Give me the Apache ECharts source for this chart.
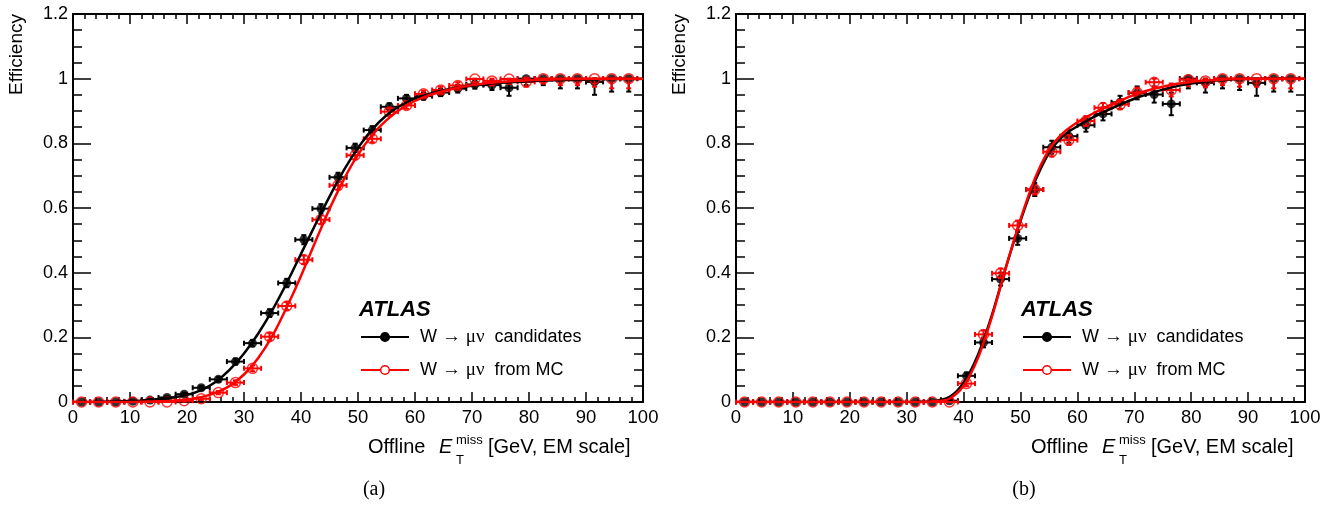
<!DOCTYPE html>
<html>
<head>
<meta charset="utf-8">
<script src="https://cdn.jsdelivr.net/npm/echarts@6/dist/echarts.min.js"></script>
<style>
html,body{margin:0;padding:0;background:#fff;}
#chart{width:1333px;height:505px;}
</style>
</head>
<body>
<div id="chart"></div>
<script>
// ---------- data ----------
const binCenters = [1.5,4.5,7.5,10.5,13.5,16.5,19.5,22.5,25.5,28.5,31.5,34.5,37.5,40.5,43.5,46.5,49.5,52.5,55.5,58.5,61.5,64.5,67.5,70.5,73.5,76.5,79.5,82.5,85.5,88.5,91.5,94.5,97.5];
const binHalfWidth = 1.5;

// panel (a)
const aDataEff = [0,0,0,0.002,0.006,0.014,0.024,0.044,0.07,0.125,0.182,0.275,0.368,0.502,0.598,0.695,0.786,0.841,0.913,0.939,0.946,0.957,0.969,0.982,0.98,0.972,1.0,1.0,1.0,1.0,0.99,1.0,1.0];
const aDataErr = [0.002,0.002,0.002,0.002,0.003,0.004,0.005,0.006,0.007,0.009,0.01,0.012,0.013,0.014,0.014,0.014,0.013,0.012,0.011,0.011,0.011,0.011,0.012,0.013,0.015,0.025,0.02,0.02,0.03,0.03,0.04,0.04,0.04];
const aMCEff = [0,0,0,0,0,0,0.004,0.01,0.029,0.06,0.104,0.202,0.297,0.44,0.564,0.67,0.763,0.814,0.898,0.917,0.953,0.965,0.979,0.999,0.993,0.999,0.99,1.0,1.0,1.0,1.0,1.0,1.0];
const aMCErr = [0.001,0.001,0.001,0.001,0.001,0.002,0.003,0.004,0.005,0.007,0.009,0.011,0.012,0.013,0.013,0.013,0.012,0.011,0.01,0.01,0.01,0.01,0.01,0.01,0.012,0.015,0.015,0.015,0.02,0.02,0.025,0.03,0.03];

// fit curves, read at 2.5 GeV steps
const fitX = [0,2.5,5,7.5,10,12.5,15,17.5,20,22.5,25,27.5,30,32.5,35,37.5,40,42.5,45,47.5,50,52.5,55,57.5,60,62.5,65,67.5,70,72.5,75,77.5,80,82.5,85,87.5,90,92.5,95,97.5,100];
const aFitData = [0,0,0.001,0.002,0.003,0.005,0.009,0.014,0.022,0.037,0.062,0.1,0.15,0.212,0.285,0.368,0.458,0.548,0.635,0.716,0.786,0.843,0.887,0.917,0.938,0.953,0.964,0.972,0.978,0.983,0.987,0.99,0.992,0.994,0.995,0.996,0.997,0.998,0.999,0.999,1.0];
const aFitMC = [0,0,0,0,0,0.001,0.002,0.004,0.008,0.015,0.028,0.05,0.085,0.136,0.205,0.293,0.39,0.495,0.597,0.688,0.765,0.826,0.872,0.906,0.931,0.949,0.962,0.972,0.98,0.986,0.99,0.993,0.995,0.997,0.998,0.999,0.999,1.0,1.0,1.0,1.0];

// panel (b)
const bDataEff = [0,0,0,0,0,0,0,0,0,0,0,0,0.004,0.081,0.184,0.38,0.506,0.657,0.788,0.822,0.856,0.891,0.927,0.956,0.951,0.922,1.0,0.987,1.0,1.0,0.987,1.0,1.0];
const bDataErr = [0.002,0.002,0.002,0.002,0.002,0.002,0.002,0.002,0.002,0.002,0.002,0.003,0.005,0.01,0.015,0.02,0.02,0.02,0.02,0.02,0.02,0.02,0.02,0.02,0.025,0.035,0.03,0.03,0.03,0.035,0.04,0.04,0.04];
const bMCEff = [0,0,0,0,0,0,0,0,0,0,0,0,0,0.057,0.209,0.398,0.546,0.657,0.774,0.81,0.869,0.91,0.92,0.957,0.989,0.965,0.997,0.993,1.0,1.0,1.0,1.0,1.0];
const bMCErr = [0.001,0.001,0.001,0.001,0.001,0.001,0.001,0.001,0.001,0.001,0.001,0.002,0.003,0.008,0.012,0.015,0.015,0.015,0.015,0.015,0.015,0.015,0.015,0.015,0.015,0.02,0.02,0.02,0.02,0.025,0.025,0.03,0.03];
const bFitData = [0,0,0,0,0,0,0,0,0,0,0,0,0,0.0005,0.003,0.015,0.06,0.145,0.27,0.42,0.56,0.68,0.77,0.823,0.853,0.878,0.9,0.92,0.938,0.953,0.966,0.977,0.985,0.991,0.995,0.998,0.999,1.0,1.0,1.0,1.0];
const bFitMC = [0,0,0,0,0,0,0,0,0,0,0,0,0,0,0.002,0.01,0.05,0.135,0.265,0.42,0.565,0.69,0.78,0.832,0.865,0.89,0.912,0.932,0.95,0.964,0.975,0.984,0.99,0.994,0.997,0.999,1.0,1.0,1.0,1.0,1.0];

const xTicks = {min:0, max:100, interval:10};
const yTicks = {min:0, max:1.2, interval:0.2};

// ---------- helpers ----------
const FONT = 'Liberation Sans, Arial, Helvetica, sans-serif';
const SERIF = 'Liberation Serif, Times New Roman, serif';
const BLACK = '#000000';
const RED = '#ff0000';

function zip(xs, ys, es){ return xs.map((x,i)=> es ? [x, ys[i], es[i]] : [x, ys[i]]); }

function errRender(color){
  return function(params, api){
    const x = api.value(0), y = api.value(1), e = api.value(2);
    const l = api.coord([x - binHalfWidth, y]);
    const r = api.coord([x + binHalfWidth, y]);
    const lo = api.coord([x, Math.max(0, y - e)]);
    const hi = api.coord([x, Math.min(1, y + e)]);
    const st = {stroke: color, lineWidth: 2};
    const cap = 2.5;
    const ch = [
      {type:'line', shape:{x1:l[0], y1:l[1], x2:r[0], y2:r[1]}, style:st},
      {type:'line', shape:{x1:l[0], y1:l[1]-cap, x2:l[0], y2:l[1]+cap}, style:st},
      {type:'line', shape:{x1:r[0], y1:r[1]-cap, x2:r[0], y2:r[1]+cap}, style:st}
    ];
    if (Math.abs(lo[1]-hi[1]) > 1) {
      ch.push({type:'line', shape:{x1:lo[0], y1:lo[1], x2:hi[0], y2:hi[1]}, style:st});
      ch.push({type:'line', shape:{x1:lo[0]-cap, y1:lo[1], x2:lo[0]+cap, y2:lo[1]}, style:st});
      ch.push({type:'line', shape:{x1:hi[0]-cap, y1:hi[1], x2:hi[0]+cap, y2:hi[1]}, style:st});
    }
    return {type:'group', children: ch};
  };
}

function xAxisDef(g, pos){
  return {
    type:'value', gridIndex:g, position:pos, min:xTicks.min, max:xTicks.max, interval:xTicks.interval,
    axisLine:{show:true, onZero:false, lineStyle:{color:BLACK, width:2}},
    axisTick:{show:true, inside:true, length:10, lineStyle:{color:BLACK, width:1.5}},
    minorTick:{show:true, splitNumber:5, length:5, lineStyle:{color:BLACK, width:1.5}},
    splitLine:{show:false}, minorSplitLine:{show:false},
    axisLabel:{show: pos === 'bottom', color:BLACK, fontSize:18.5, fontFamily:FONT, margin:6}
  };
}
function yAxisDef(g, pos){
  return {
    type:'value', gridIndex:g, position:pos, min:yTicks.min, max:yTicks.max, interval:yTicks.interval,
    axisLine:{show:true, onZero:false, lineStyle:{color:BLACK, width:2}},
    axisTick:{show:true, inside:true, length:18, lineStyle:{color:BLACK, width:1.5}},
    minorTick:{show:true, splitNumber:4, length:9, lineStyle:{color:BLACK, width:1.5}},
    splitLine:{show:false}, minorSplitLine:{show:false},
    axisLabel:{show: pos === 'left', color:BLACK, fontSize:18, fontFamily:FONT, margin:5,
      formatter: v => String(+v.toFixed(1))}
  };
}

function panelSeries(g, dEff, dErr, mEff, mErr, fd, fm){
  const xi = g*2, yi = g*2;
  return [
    {type:'custom', xAxisIndex:xi, yAxisIndex:yi, renderItem:errRender(BLACK), data:zip(binCenters, dEff, dErr), clip:false, z:2, silent:true},
    {type:'scatter', xAxisIndex:xi, yAxisIndex:yi, data:zip(binCenters, dEff), symbol:'circle', symbolSize:9,
      itemStyle:{color:BLACK}, clip:false, z:3, silent:true},
    {type:'custom', xAxisIndex:xi, yAxisIndex:yi, renderItem:errRender(RED), data:zip(binCenters, mEff, mErr), clip:false, z:4, silent:true},
    {type:'scatter', xAxisIndex:xi, yAxisIndex:yi, data:zip(binCenters, mEff), symbol:'circle', symbolSize:10,
      itemStyle:{color:'rgba(255,255,255,0)', borderColor:RED, borderWidth:1.5}, clip:false, z:5, silent:true},
    {type:'line', xAxisIndex:xi, yAxisIndex:yi, data:zip(fitX, fd), smooth:0.3, showSymbol:false,
      lineStyle:{color:BLACK, width:2.5}, z:6, silent:true},
    {type:'line', xAxisIndex:xi, yAxisIndex:yi, data:zip(fitX, fm), smooth:0.3, showSymbol:false,
      lineStyle:{color:RED, width:2.5}, z:7, silent:true}
  ];
}

function panelGraphics(ox, legendX, capX, capLabel, yTitleX){
  const els = [];
  els.push({type:'text', x:yTitleX, y:14, rotation:Math.PI/2,
    style:{text:'Efficiency', font:'19px ' + FONT, fill:BLACK, align:'right', verticalAlign:'middle'}});
  els.push({type:'text', x:legendX - 2, y:309.5,
    style:{text:'ATLAS', font:'italic bold 22px ' + FONT, fill:BLACK, align:'left', verticalAlign:'middle'}});
  const rows = [
    {y:337, color:BLACK, fill:BLACK, label:'candidates'},
    {y:370, color:RED, fill:'#ffffff', label:'from MC'}
  ];
  rows.forEach(r => {
    els.push({type:'line', shape:{x1:legendX, y1:r.y, x2:legendX+48, y2:r.y}, style:{stroke:r.color, lineWidth:2}});
    els.push({type:'circle', shape:{cx:legendX+24, cy:r.y, r:4.3}, style:{fill:r.fill, stroke:r.color, lineWidth:1.5}});
    els.push({type:'text', x:legendX+59, y:r.y,
      style:{text:'{a|W }{s|→ μν}{a|  ' + r.label + '}', verticalAlign:'middle', align:'left',
        rich:{a:{font:'18px ' + FONT, fill:BLACK}, s:{font:'19px ' + SERIF, fill:BLACK}}}});
  });
  const tx = ox + 295;
  els.push({type:'text', x:tx, y:447, style:{text:'Offline', font:'20px ' + FONT, fill:BLACK, align:'left', verticalAlign:'middle'}});
  els.push({type:'text', x:tx+71, y:447, style:{text:'E', font:'italic 20px ' + FONT, fill:BLACK, align:'left', verticalAlign:'middle'}});
  els.push({type:'text', x:tx+88, y:440, style:{text:'miss', font:'13px ' + FONT, fill:BLACK, align:'left', verticalAlign:'middle'}});
  els.push({type:'text', x:tx+88, y:460, style:{text:'T', font:'13px ' + FONT, fill:BLACK, align:'left', verticalAlign:'middle'}});
  els.push({type:'text', x:tx+120, y:447, style:{text:'[GeV, EM scale]', font:'20px ' + FONT, fill:BLACK, align:'left', verticalAlign:'middle'}});
  els.push({type:'text', x:capX, y:490, style:{text:capLabel, font:'20px ' + SERIF, fill:BLACK, align:'center', verticalAlign:'middle'}});
  return els;
}

const chart = echarts.init(document.getElementById('chart'), null, {renderer:'canvas'});
chart.setOption({
  backgroundColor:'#ffffff',
  animation:false,
  grid:[
    {left:73, top:14, right:690, bottom:103, containLabel:false},
    {left:736, top:14, right:28, bottom:103, containLabel:false}
  ],
  xAxis:[xAxisDef(0,'bottom'), xAxisDef(0,'top'), xAxisDef(1,'bottom'), xAxisDef(1,'top')],
  yAxis:[yAxisDef(0,'left'), yAxisDef(0,'right'), yAxisDef(1,'left'), yAxisDef(1,'right')],
  series:[].concat(
    panelSeries(0, aDataEff, aDataErr, aMCEff, aMCErr, aFitData, aFitMC),
    panelSeries(1, bDataEff, bDataErr, bMCEff, bMCErr, bFitData, bFitMC)
  ),
  graphic:[].concat(
    panelGraphics(73, 361, 374, '(a)', 17),
    panelGraphics(736, 1023, 1024, '(b)', 680)
  )
});
</script>
</body>
</html>
